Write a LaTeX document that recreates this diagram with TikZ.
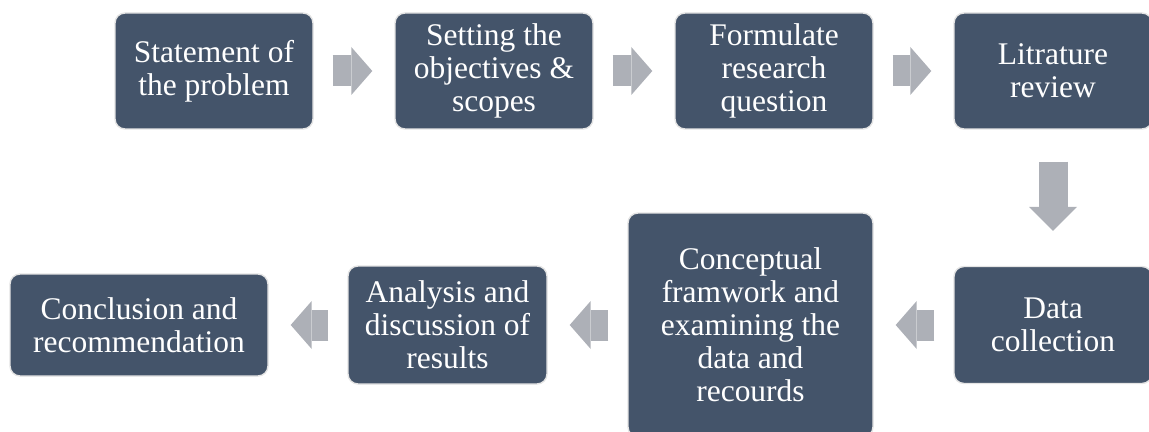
\documentclass[tikz,border=0pt]{standalone}
\usepackage{fontspec}
\setmainfont{Liberation Serif}
\usetikzlibrary{arrows.meta}
\definecolor{slate}{HTML}{44546A}
\definecolor{rim}{HTML}{E4E4E4}
\definecolor{pale}{HTML}{ADB0B7}

\tikzset{
  stage/.style={draw=rim, line width=1pt, fill=slate, rounded corners=0.25cm,
    text=white, align=center, inner sep=0pt,
    font=\fontsize{22.4}{23.5}\selectfont},
  flow/.style={draw=pale, line width=0.775cm,
    -{Triangle[length=0.525cm, width=1.2cm, line width=0pt]},
    shorten <=0.475cm, shorten >=0.55cm}
}

\begin{document}
\begin{tikzpicture}
  \useasboundingbox (0,0) rectangle (28.725,-10.8);
  % top row, left to right
  \node[stage, minimum width=4.95cm, minimum height=2.9cm] (problem)
    at (5.35,-1.775) {Statement of\\the problem};
  \node[stage, minimum width=4.95cm, minimum height=2.9cm] (objectives)
    at (12.35,-1.775) {Setting the\\objectives \&\\scopes};
  \node[stage, minimum width=4.95cm, minimum height=2.9cm] (question)
    at (19.35,-1.775) {Formulate\\research\\question};
  \node[stage, minimum width=4.95cm, minimum height=2.9cm] (review)
    at (26.325,-1.775) {Litrature\\review};
  % bottom row, right to left
  \node[stage, minimum width=4.95cm, minimum height=2.925cm] (collection)
    at (26.325,-8.125) {Data\\collection};
  \node[stage, minimum width=6.125cm, minimum height=5.6cm] (framework)
    at (18.7625,-8.125) {Conceptual\\framwork and\\examining the\\data and\\recourds};
  \node[stage, minimum width=4.975cm, minimum height=2.95cm] (analysis)
    at (11.1875,-8.125) {Analysis and\\discussion of\\results};
  \node[stage, minimum width=6.45cm, minimum height=2.55cm] (conclusion)
    at (3.475,-8.125) {Conclusion and\\recommendation};

  \foreach \a/\b in {problem/objectives, objectives/question, question/review,
                     collection/framework, framework/analysis, analysis/conclusion}
    {\draw[flow] (\a) -- (\b);}
  \draw[flow, line width=0.725cm, shorten <=0.8cm, shorten >=0.875cm,
    -{Triangle[length=0.6cm, width=1.2cm, line width=0pt]}] (review) -- (collection);
\end{tikzpicture}
\end{document}
